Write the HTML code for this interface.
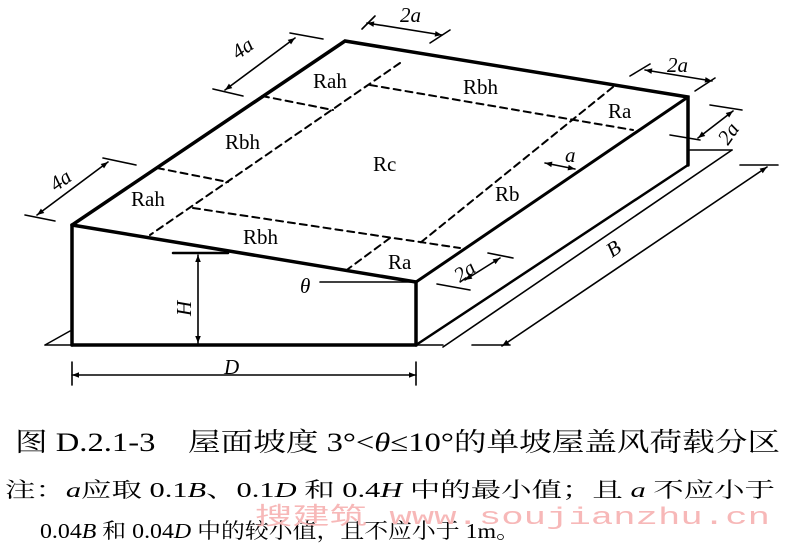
<!DOCTYPE html>
<html><head><meta charset="utf-8"><style>
html,body{margin:0;padding:0;background:#fff;}
svg{display:block;}
</style></head><body>
<svg width="800" height="550" viewBox="0 0 800 550" xmlns="http://www.w3.org/2000/svg">
<defs>
<marker id="ar" viewBox="0 0 10 10" refX="10" refY="5" markerWidth="9" markerHeight="7" orient="auto-start-reverse" markerUnits="userSpaceOnUse"><path d="M0,1 L10,5 L0,9 z" fill="#000"/></marker>
</defs>
<g stroke="#000" fill="none" stroke-linecap="round">
<polyline points="72,345 72,225 345,41 688,97 688,165" stroke-width="3.5"/>
<line x1="72" y1="225" x2="416" y2="282" stroke-width="3.5"/>
<line x1="416" y1="282" x2="688" y2="97" stroke-width="3"/>
<line x1="416" y1="282" x2="416" y2="345" stroke-width="3.5"/>
<line x1="416" y1="345" x2="688" y2="165" stroke-width="2.5"/>
<line x1="72" y1="345" x2="416" y2="345" stroke-width="3.5"/>
<line x1="45" y1="345" x2="72" y2="345" stroke-width="1.5"/>
<line x1="45" y1="345" x2="70" y2="331" stroke-width="1.5"/>
<line x1="416" y1="345" x2="443" y2="345" stroke-width="1.5"/>
<g stroke-width="2" stroke-dasharray="7,5">
<line x1="400" y1="63" x2="150" y2="235"/>
<line x1="262" y1="96" x2="333" y2="110"/>
<line x1="157" y1="168" x2="228" y2="182"/>
<line x1="370" y1="85" x2="633" y2="130"/>
<line x1="613" y1="87" x2="420" y2="243"/>
<line x1="193" y1="208" x2="460" y2="248"/>
<line x1="390" y1="238" x2="348" y2="269"/>
</g>
<g stroke-width="1.6">
<line x1="225" y1="90" x2="295" y2="38" marker-start="url(#ar)" marker-end="url(#ar)"/>
<line x1="213" y1="89" x2="243" y2="96"/><line x1="290" y1="33" x2="323" y2="39"/>
<line x1="37" y1="215" x2="108" y2="162" marker-start="url(#ar)" marker-end="url(#ar)"/>
<line x1="25" y1="215" x2="55" y2="221"/><line x1="103" y1="158" x2="136" y2="165"/>
<line x1="367" y1="23" x2="442" y2="35" marker-start="url(#ar)" marker-end="url(#ar)"/>
<line x1="362" y1="29" x2="375" y2="16"/><line x1="430" y1="43" x2="450" y2="30"/>
<line x1="645" y1="70" x2="712" y2="81" marker-start="url(#ar)" marker-end="url(#ar)"/>
<line x1="630" y1="76" x2="650" y2="64"/><line x1="695" y1="91" x2="715" y2="78"/>
<line x1="698" y1="138" x2="733" y2="111" marker-start="url(#ar)" marker-end="url(#ar)"/>
<line x1="670" y1="135" x2="700" y2="140"/><line x1="710" y1="105" x2="742" y2="110"/>
<line x1="690" y1="150" x2="732" y2="150"/>
<line x1="732" y1="150" x2="443" y2="347"/>
<line x1="465" y1="280" x2="500" y2="258" marker-start="url(#ar)" marker-end="url(#ar)"/>
<line x1="437" y1="284" x2="470" y2="290"/><line x1="488" y1="253" x2="513" y2="258"/>
<line x1="545" y1="163" x2="575" y2="169" marker-start="url(#ar)" marker-end="url(#ar)"/>
<line x1="767" y1="167" x2="502" y2="346" marker-start="url(#ar)" marker-end="url(#ar)"/>
<line x1="740" y1="165" x2="778" y2="165"/><line x1="472" y1="345" x2="510" y2="345"/>
<line x1="72" y1="375" x2="416" y2="375" marker-start="url(#ar)" marker-end="url(#ar)"/>
<line x1="72" y1="362" x2="72" y2="385"/><line x1="416" y1="362" x2="416" y2="385"/>
<line x1="198" y1="255" x2="198" y2="343" marker-start="url(#ar)" marker-end="url(#ar)"/>
<line x1="173" y1="253" x2="228" y2="253" stroke-width="2.5"/>
<line x1="320" y1="282" x2="416" y2="282"/>
</g>
</g>
<g font-family="Liberation Serif, serif" font-size="21" fill="#000">
<text x="313" y="88">Rah</text>
<text x="463" y="94">Rbh</text>
<text x="608" y="118">Ra</text>
<text x="225" y="149">Rbh</text>
<text x="373" y="171">Rc</text>
<text x="131" y="206">Rah</text>
<text x="243" y="244">Rbh</text>
<text x="495" y="201">Rb</text>
<text x="388" y="269">Ra</text>
<text x="565" y="162" font-style="italic">a</text>
<text x="300" y="293" font-style="italic">θ</text>
<text x="224" y="374" font-style="italic">D</text>
<text transform="translate(612,258) rotate(-34)" font-style="italic">B</text>
<text x="667" y="72" font-style="italic">2a</text>
<text x="400" y="22" font-style="italic">2a</text>
<text transform="translate(238,60) rotate(-36)" font-style="italic">4a</text>
<text transform="translate(56,192) rotate(-36)" font-style="italic">4a</text>
<text transform="translate(728,146) rotate(-55)" font-style="italic">2a</text>
<text transform="translate(460,283) rotate(-35)" font-style="italic">2a</text>
<text transform="translate(191,316) rotate(-90)" font-style="italic">H</text>
</g>
<g font-family="Liberation Serif, 'Noto Serif CJK SC', serif" fill="#000">
<text x="15" y="451" font-size="26" textLength="765" lengthAdjust="spacingAndGlyphs">图 D.2.1-3　屋面坡度 3°&lt;<tspan font-style="italic">θ</tspan>≤10°的单坡屋盖风荷载分区</text>
<text x="5" y="497" font-size="21" textLength="770" lengthAdjust="spacingAndGlyphs">注：<tspan font-style="italic">a</tspan>应取 0.1<tspan font-style="italic">B</tspan>、0.1<tspan font-style="italic">D</tspan> 和 0.4<tspan font-style="italic">H</tspan> 中的最小值；且 <tspan font-style="italic">a</tspan> 不应小于</text>
<text x="40" y="538" font-size="21" textLength="480" lengthAdjust="spacingAndGlyphs">0.04<tspan font-style="italic">B</tspan> 和 0.04<tspan font-style="italic">D</tspan> 中的较小值，且不应小于 1m。</text>
</g>
<text x="255" y="524" font-family="Liberation Mono, 'Noto Sans CJK SC', monospace" font-size="24" fill="#f7b8b8" textLength="515" lengthAdjust="spacingAndGlyphs">搜建筑 www.soujianzhu.cn</text>
</svg>
</body></html>
